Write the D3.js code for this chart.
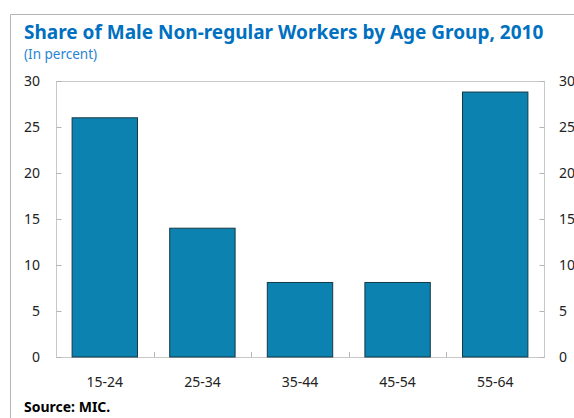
<!DOCTYPE html>
<html>
<head>
<meta charset="utf-8">
<script src="https://cdn.jsdelivr.net/npm/d3@7"></script>
<style>
  body { margin: 0; background: #fff; }
  text { font-family: "Noto Sans", "Open Sans", sans-serif; }
</style>
</head>
<body>
<svg id="chart" width="574" height="418"></svg>
<script>
// data
let ageGroups = ["15-24", "25-34", "35-44", "45-54", "55-64"];
let shareValues = [26.0, 14.0, 8.1, 8.1, 28.8];
let yTicks = [0, 5, 10, 15, 20, 25, 30];

let margin = {top: 81, bottom: 60, left: 56, right: 30},
    width = 574,
    height = 418;

let svg = d3.select("#chart");

// outer frame (left + top edges only visible)
svg.append("path")
    .attr("d", "M10.5," + height + "V14.5H" + width)
    .attr("fill", "none")
    .attr("stroke", "#b4b4b4")
    .attr("stroke-width", 1);

svg.append("text")
    .attr("x", 24).attr("y", 39)
    .attr("fill", "#0070c0")
    .attr("font-size", 19)
    .attr("font-weight", "bold")
    .text("Share of Male Non-regular Workers by Age Group, 2010");

svg.append("text")
    .attr("x", 24).attr("y", 59)
    .attr("fill", "#2a84d2")
    .attr("font-size", 13.5)
    .text("(In percent)");

let x = d3.scaleBand()
    .domain(ageGroups)
    .range([margin.left, width - margin.right])
    .paddingInner(0.33)
    .paddingOuter(0.165);

let y = d3.scaleLinear()
    .domain([0, 30])
    .range([height - margin.bottom - 1, margin.top]);

let chart = svg.append("g");

// plot area box
chart.append("rect")
    .attr("x", margin.left + 0.5)
    .attr("y", margin.top + 0.5)
    .attr("width", width - margin.right - margin.left)
    .attr("height", y(0) - margin.top)
    .attr("fill", "none")
    .attr("stroke", "#c8c8c8");

chart.selectAll("rect.bar")
    .data(ageGroups)
    .enter()
    .append("rect")
    .attr("class", "bar")
    .attr("x", d => x(d))
    .attr("y", (d, i) => y(shareValues[i]))
    .attr("width", x.bandwidth())
    .attr("height", (d, i) => y(0) - y(shareValues[i]))
    .attr("fill", "#0b82b0")
    .attr("stroke", "#163846")
    .attr("stroke-width", 1);

let leftAxis = chart.append("g")
    .attr("transform", "translate(" + (margin.left + 0.5) + ",0)")
    .call(d3.axisRight(y).tickValues(yTicks).tickSize(5).tickFormat(""));

let rightAxis = chart.append("g")
    .attr("transform", "translate(" + (width - margin.right + 0.5) + ",0)")
    .call(d3.axisLeft(y).tickValues(yTicks).tickSize(5).tickFormat(""));

[leftAxis, rightAxis].forEach(a => {
    a.select(".domain").remove();
    a.selectAll("line").attr("stroke", "#b4b4b4");
});

// tick labels
chart.selectAll("text.yl")
    .data(yTicks)
    .enter().append("text")
    .attr("class", "yl")
    .attr("x", 40)
    .attr("y", d => y(d))
    .attr("dy", "0.35em")
    .attr("text-anchor", "end")
    .attr("font-size", 14)
    .attr("fill", "#222")
    .text(d => d);

chart.selectAll("text.yr")
    .data(yTicks)
    .enter().append("text")
    .attr("class", "yr")
    .attr("x", 559)
    .attr("y", d => y(d))
    .attr("dy", "0.35em")
    .attr("font-size", 14)
    .attr("fill", "#222")
    .text(d => d);

// x axis: ticks between categories pointing up
let step = x.step();
let sep = d3.range(1, ageGroups.length).map(i => x(ageGroups[i]) - x.paddingInner() * step / 2);
chart.selectAll("line.xt")
    .data(sep)
    .enter().append("line")
    .attr("x1", d => Math.round(d) + 0.5)
    .attr("x2", d => Math.round(d) + 0.5)
    .attr("y1", y(0))
    .attr("y2", y(0) - 5)
    .attr("stroke", "#b4b4b4");

chart.selectAll("text.xl")
    .data(ageGroups)
    .enter().append("text")
    .attr("class", "xl")
    .attr("x", d => x(d) + x.bandwidth() / 2)
    .attr("y", 387)
    .attr("text-anchor", "middle")
    .attr("font-size", 14)
    .attr("fill", "#222")
    .text(d => d);

svg.append("text")
    .attr("x", 24).attr("y", 412)
    .attr("font-size", 14)
    .attr("font-weight", "bold")
    .attr("fill", "#000")
    .text("Source: MIC.");
</script>
</body>
</html>
